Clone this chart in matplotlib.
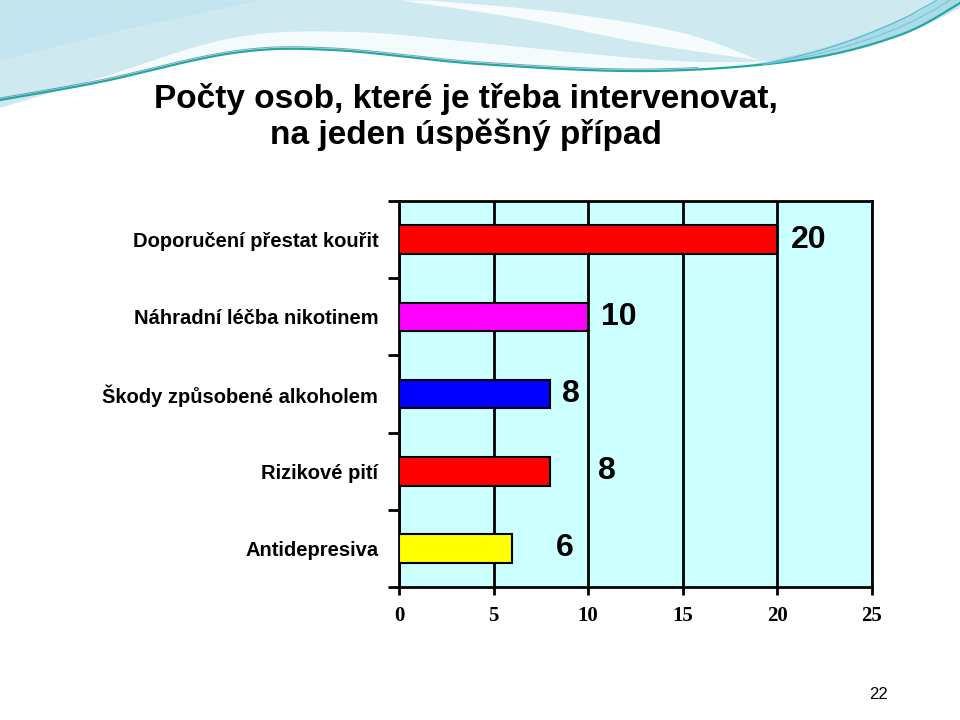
import numpy as np
import matplotlib.pyplot as plt

# data
categories = ["Doporučení přestat kouřit", "Náhradní léčba nikotinem",
              "Škody způsobené alkoholem", "Rizikové pití", "Antidepresiva"]
values = [20, 10, 8, 8, 6]
bar_colors = ["#ff0000", "#ff00ff", "#0000ff", "#ff0000", "#ffff00"]
x_ticks = [0, 5, 10, 15, 20, 25]
# value label offsets (as drawn on the slide)
label_offset = [0.7, 0.7, 0.6, 2.5, 2.3]

title = "Počty osob, které je třeba intervenovat,\nna jeden úspěšný případ"
page_no = "22"


def smooth(px, py, n=300):
    """Catmull-Rom through the control points, sampled n times."""
    p = np.column_stack([px, py]).astype(float)
    p = np.vstack([p[0], p, p[-1]])
    out = []
    for i in range(1, len(p) - 2):
        t = np.linspace(0, 1, n // (len(p) - 3), endpoint=False)[:, None]
        p0, p1, p2, p3 = p[i - 1], p[i], p[i + 1], p[i + 2]
        out.append(0.5 * (2 * p1 + (-p0 + p2) * t + (2 * p0 - 5 * p1 + 4 * p2 - p3) * t ** 2
                          + (-p0 + 3 * p1 - 3 * p2 + p3) * t ** 3))
    out.append(p[-2][None, :])
    out = np.vstack(out)
    return out[:, 0], out[:, 1]


fig = plt.figure(figsize=(9.6, 7.2), dpi=100)
fig.patch.set_facecolor("white")

# ---- decorative header waves (pixel coords, y down) ----
bg = fig.add_axes([0, 0, 1, 1], zorder=-5)
bg.set_xlim(0, 960)
bg.set_ylim(720, 0)
bg.axis("off")

xs = np.linspace(0, 960, 600)
wx, wy = smooth([0, 100, 233, 350, 480, 600, 700, 800, 900, 960],
                [108, 78, 38, 32, 43, 55, 62, 58, 35, 8])
tx, ty = smooth([0, 100, 233, 333, 480, 650, 800, 900, 960],
                [100, 82, 53, 50, 64, 71, 60, 35, 3])
w_top = np.interp(xs, wx, wy)
t_line = np.interp(xs, tx, ty)
bg.fill_between(xs, 0, w_top, color="#cfe9f1", lw=0)
bg.fill_between(xs, w_top, t_line, where=t_line > w_top, color="#f4fbfd", lw=0)
bg.fill_between(xs, 0, np.interp(xs, [0, 120, 260], [60, 30, 0]),
                where=xs <= 260, color="#c2e4ee", lw=0)
# white crescent in the upper band
ux, uy = smooth([400, 520, 640, 760], [0, 18, 42, 60])
lx, ly = smooth([430, 560, 680, 760], [0, 12, 32, 60])
bg.fill_between(xs, np.interp(xs, lx, ly), np.interp(xs, ux, uy),
                where=(xs >= 400) & (xs <= 760), color="#ffffff", alpha=0.85, lw=0)
# light band near the right corner, tapering in
taper = np.clip((xs - 740) / 160, 0, 1) * 16
bg.fill_between(xs, t_line - taper, t_line, color="#a9dbe8", lw=0)
bg.plot(tx, ty, color="#22a89c", lw=1.6)
bg.plot(tx[tx < 700], ty[tx < 700] - 2, color="#1f5fa6", lw=0.7, alpha=0.6)
rt = tx > 760
bg.plot(tx[rt], ty[rt] - np.clip((tx[rt] - 760) / 160, 0, 1) * 9,
        color="#7ec8d6", lw=0.9)
bg.plot(tx[rt], ty[rt] - np.clip((tx[rt] - 760) / 160, 0, 1) * 17,
        color="#4fb3c4", lw=0.7)

# ---- chart ----
ax = fig.add_axes([0.4156, 0.1847, 0.4927, 0.5361])
ax.set_facecolor("#ccffff")
y = np.arange(len(categories))
ax.barh(y, values, height=0.37, color=bar_colors, edgecolor="black", lw=1.5, zorder=3)

ax.set_xlim(0, 25)
ax.set_ylim(len(categories) - 0.5, -0.5)
ax.set_xticks(x_ticks)
ax.set_xticklabels([str(t) for t in x_ticks], family="Liberation Serif",
                   fontsize=15, fontweight="bold")
ax.xaxis.grid(True, color="black", lw=2, zorder=1)
ax.set_axisbelow(True)
ax.tick_params(axis="x", direction="out", length=6, width=2, pad=8)

ax.set_yticks(np.arange(len(categories) + 1) - 0.5)
ax.set_yticklabels([])
ax.tick_params(axis="y", which="major", direction="out", length=8, width=2)
ax.set_yticks(y, minor=True)
ax.set_yticklabels(categories, minor=True, family="Liberation Sans",
                   fontsize=14.5, fontweight="bold")
ax.tick_params(axis="y", which="minor", length=0, pad=15)
for s in ax.spines.values():
    s.set_linewidth(2)

for i, v in enumerate(values):
    ax.text(v + label_offset[i], i, str(v), va="center", ha="left",
            family="Liberation Sans", fontsize=23, fontweight="bold", zorder=4)

fig.text(0.485, 0.79, title, ha="center", va="bottom", family="Liberation Sans",
         fontsize=24, fontweight="bold", linespacing=1.15)
fig.text(0.915, 0.035, page_no, ha="center", va="center",
         family="Liberation Sans", fontsize=12)

fig.savefig("out.png", dpi=100)
